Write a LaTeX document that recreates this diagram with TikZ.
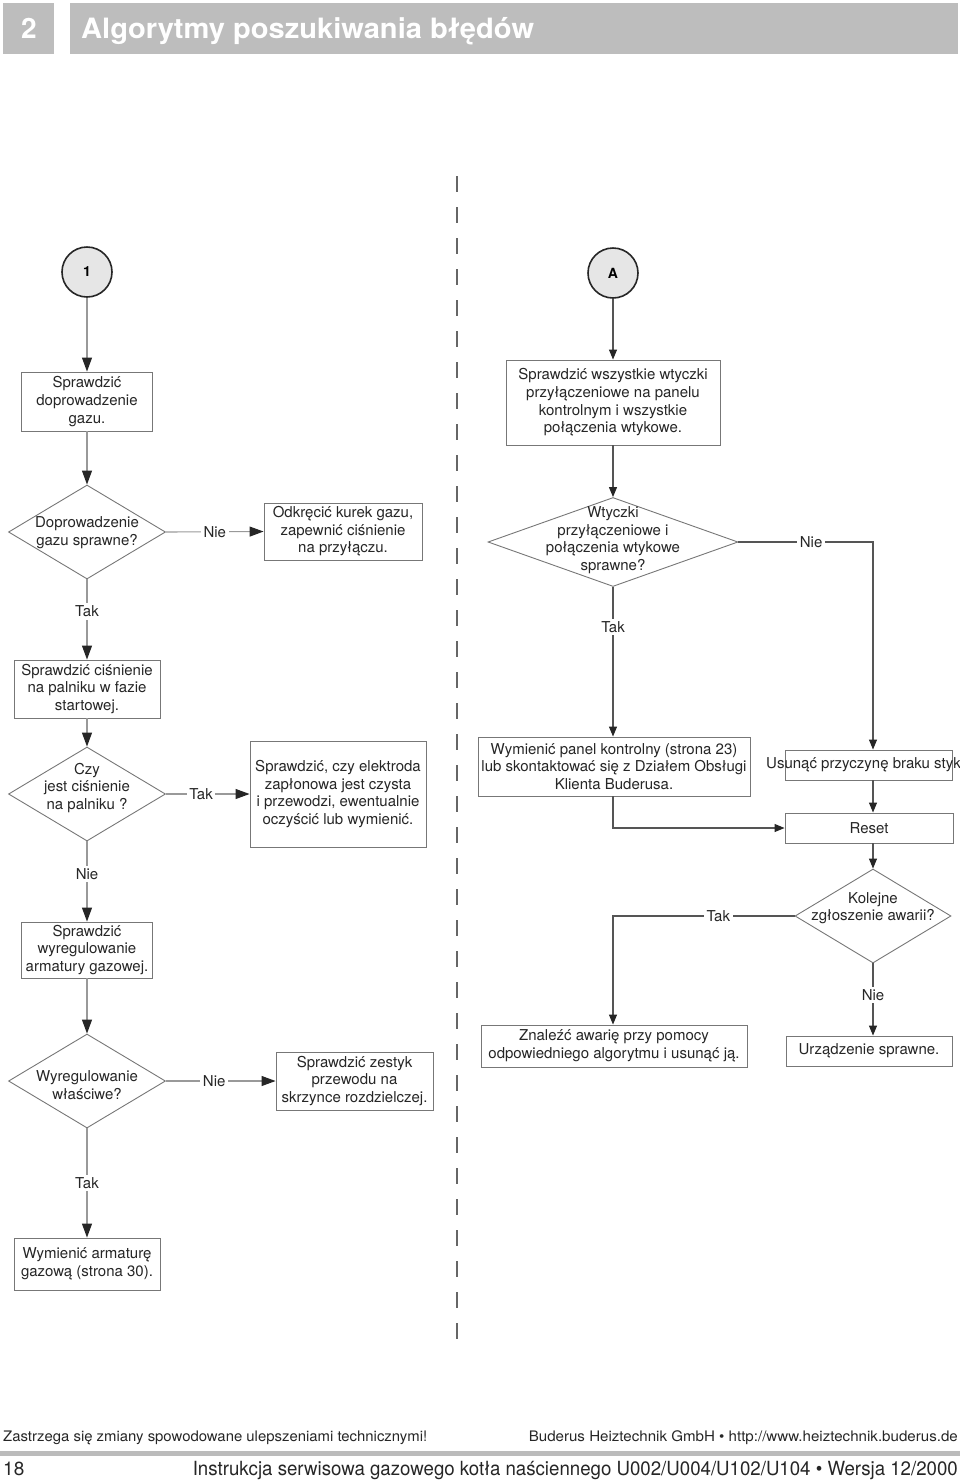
\documentclass[tikz,border=0pt]{standalone}
\usepackage{fontspec}
\usepackage{graphicx}
\setmainfont{TeX Gyre Heros}
\usetikzlibrary{shapes.geometric,arrows.meta}
\definecolor{hdr}{HTML}{BDBDBD}
\definecolor{barc}{HTML}{BBBBBB}
\definecolor{lline}{HTML}{999999}
\definecolor{rline}{HTML}{555555}
\definecolor{bord}{HTML}{777777}
\definecolor{cfill}{HTML}{E6E6E6}
\tikzset{
  txt/.style={font=\fontsize{15}{17.6}\selectfont, text=black!85},
  pbox/.style={txt, draw=bord, line width=0.9pt, fill=white, align=center, inner sep=1pt},
  dec/.style={diamond, draw=bord, line width=0.9pt, fill=white, inner sep=0pt},
  dlbl/.style={txt, align=center, inner sep=0pt},
  circ/.style={circle, draw=black!85, line width=1.6pt, fill=cfill, minimum size=50pt, inner sep=0pt, font=\bfseries\fontsize{14}{16}\selectfont},
  lconn/.style={draw=lline, line width=1.1pt, -{Triangle[length=14pt,width=10pt,color=black!85]}},
  rconn/.style={draw=rline, line width=1.1pt, -{Triangle[length=10pt,width=8pt,color=black!85]}},
  lbl/.style={txt, fill=white, inner sep=2.5pt},
}
\begin{document}
\begin{tikzpicture}[x=1pt,y=-1pt]
\useasboundingbox (0,0) rectangle (960,1481);
% header
\fill[hdr] (3,3) rectangle (54,54);
\fill[hdr] (70,3) rectangle (958,54);
\node[text=white, font=\bfseries\fontsize{28}{30}\selectfont, inner sep=0] (hnum) at (29,28.5) {2};
\node[anchor=base west, text=white, inner sep=0] (htitle) at (81,38) {\resizebox{453pt}{\height}{\bfseries\fontsize{28}{30}\selectfont Algorytmy poszukiwania błędów}};

% separator
\draw[black!60, line width=1.2pt, dash pattern=on 16pt off 15pt] (457,176) -- (457,1352);

% left column
\node[circ] (c1) at (87,272) {1};
\node[pbox, minimum width=131pt, minimum height=59pt] (b1) at (87,401.5) {Sprawdzić\\doprowadzenie\\gazu.};
\node[dec, minimum width=157pt, minimum height=94pt, label={[dlbl, yshift=-0.5pt]center:Doprowadzenie\\gazu sprawne?}] (d1) at (87,532) {};
\node[pbox, minimum width=158pt, minimum height=57pt] (b2) at (343,531.5) {Odkręcić kurek gazu,\\zapewnić ciśnienie\\na przyłączu.};
\node[pbox, minimum width=146pt, minimum height=58pt] (b3) at (87,689) {Sprawdzić ciśnienie\\na palniku w fazie\\startowej.};
\node[dec, minimum width=157pt, minimum height=94pt, label={[dlbl, yshift=6pt]center:Czy\\jest ciśnienie\\na palniku ?}] (d2) at (87,794) {};
\node[pbox, minimum width=176pt, minimum height=106pt] (b4) at (338,794) {Sprawdzić, czy elektroda\\zapłonowa jest czysta\\i przewodzi, ewentualnie\\oczyścić lub wymienić.};
\node[pbox, minimum width=131pt, minimum height=56pt] (b5) at (87,950) {Sprawdzić\\wyregulowanie\\armatury gazowej.};
\node[dec, minimum width=157pt, minimum height=94pt, label={[dlbl, yshift=-4pt]center:Wyregulowanie\\właściwe?}] (d3) at (87,1081) {};
\node[pbox, minimum width=157pt, minimum height=58pt] (b6) at (354.5,1081) {Sprawdzić zestyk\\przewodu na\\skrzynce rozdzielczej.};
\node[pbox, minimum width=146pt, minimum height=52pt] (b7) at (87,1264) {Wymienić armaturę\\gazową (strona 30).};

\draw[lconn] (c1.south) -- (b1.north);
\draw[lconn] (b1.south) -- (d1.north);
\draw[lconn] (d1.east) -- node[lbl]{Nie} (b2.west);
\draw[lconn] (d1.south) -- node[lbl, pos=0.4]{Tak} (b3.north);
\draw[lconn] (b3.south) -- (d2.north);
\draw[lconn] (d2.east) -- node[lbl, pos=0.42]{Tak} (b4.west);
\draw[lconn] (d2.south) -- node[lbl, pos=0.41]{Nie} (b5.north);
\draw[lconn] (b5.south) -- (d3.north);
\draw[lconn] (d3.east) -- node[lbl, pos=0.44]{Nie} (b6.west);
\draw[lconn] (d3.south) -- node[lbl]{Tak} (b7.north);

% right column
\coordinate (kx) at (873,0);
\node[circ] (cA) at (613,273) {A};
\node[pbox, minimum width=214pt, minimum height=85pt] (r1) at (613,402.5) {Sprawdzić wszystkie wtyczki\\przyłączeniowe na panelu\\kontrolnym i wszystkie\\połączenia wtykowe.};
\node[dec, minimum width=250pt, minimum height=89pt, label={[dlbl, yshift=2pt]center:Wtyczki\\przyłączeniowe i\\połączenia wtykowe\\sprawne?}] (dR1) at (613,542) {};
\node[pbox, minimum width=272pt, minimum height=59pt] (r2) at (614,766.5) {Wymienić panel kontrolny (strona 23)\\lub skontaktować się z Działem Obsługi\\Klienta Buderusa.};
\node[pbox, minimum width=167pt, minimum height=30pt] (r3) at (868.5,765) {};
\node[txt, anchor=west, inner sep=0pt] (r3t) at (766,765) {Usunąć przyczynę braku styk};
\node[pbox, minimum width=168pt, minimum height=30pt] (r4) at (869,828) {Reset};
\node[dec, minimum width=156pt, minimum height=94pt, label={[dlbl, yshift=8pt]center:Kolejne\\zgłoszenie awarii?}] (dR2) at (873,916) {};
\node[pbox, minimum width=266pt, minimum height=42pt] (r5) at (614,1046) {Znaleźć awarię przy pomocy\\odpowiedniego algorytmu i usunąć ją.};
\node[pbox, minimum width=166pt, minimum height=30pt] (r6) at (869,1051) {Urządzenie sprawne.};

\draw[rconn] (cA.south) -- (r1.north);
\draw[rconn] (r1.south) -- (dR1.north);
\draw[rconn] (dR1.east) -- node[lbl, pos=0.54]{Nie} (dR1.east -| kx) -- (r3.north -| kx);
\draw[rconn] (dR1.south) -- node[lbl, pos=0.27]{Tak} (dR1.south |- r2.north);
\draw[rconn] (r3.south -| kx) -- (r4.north -| kx);
\draw[rconn] (r2.south -| dR1.south) -- (r4.west -| dR1.south) -- (r4.west);
\draw[rconn] (r4.south -| kx) -- (dR2.north);
\draw[rconn] (dR2.west) -- node[lbl, pos=0.42]{Tak} (dR2.west -| dR1.south) -- (r5.north -| dR1.south);
\draw[rconn] (dR2.south) -- node[lbl, pos=0.44]{Nie} (r6.north -| kx);

% footer
\node[anchor=base west, inner sep=0, text=black!85] (f1) at (3,1441) {\resizebox{424pt}{\height}{\fontsize{14.5}{16}\selectfont Zastrzega się zmiany spowodowane ulepszeniami technicznymi!}};
\node[anchor=base east, inner sep=0, text=black!85] (f2) at (958,1441) {\resizebox{429pt}{\height}{\fontsize{14.5}{16}\selectfont Buderus Heiztechnik GmbH • http://www.heiztechnik.buderus.de}};
\fill[barc] (0,1451) rectangle (960,1456);
\node[anchor=base west, inner sep=0, text=black!85, font=\fontsize{19}{21}\selectfont] (f3) at (3,1475) {18};
\node[anchor=base east, inner sep=0, text=black!85] (f4) at (958,1475) {\resizebox{765pt}{\height}{\fontsize{19.5}{21}\selectfont Instrukcja serwisowa gazowego kotła naściennego U002/U004/U102/U104 • Wersja 12/2000}};
\end{tikzpicture}
\end{document}
